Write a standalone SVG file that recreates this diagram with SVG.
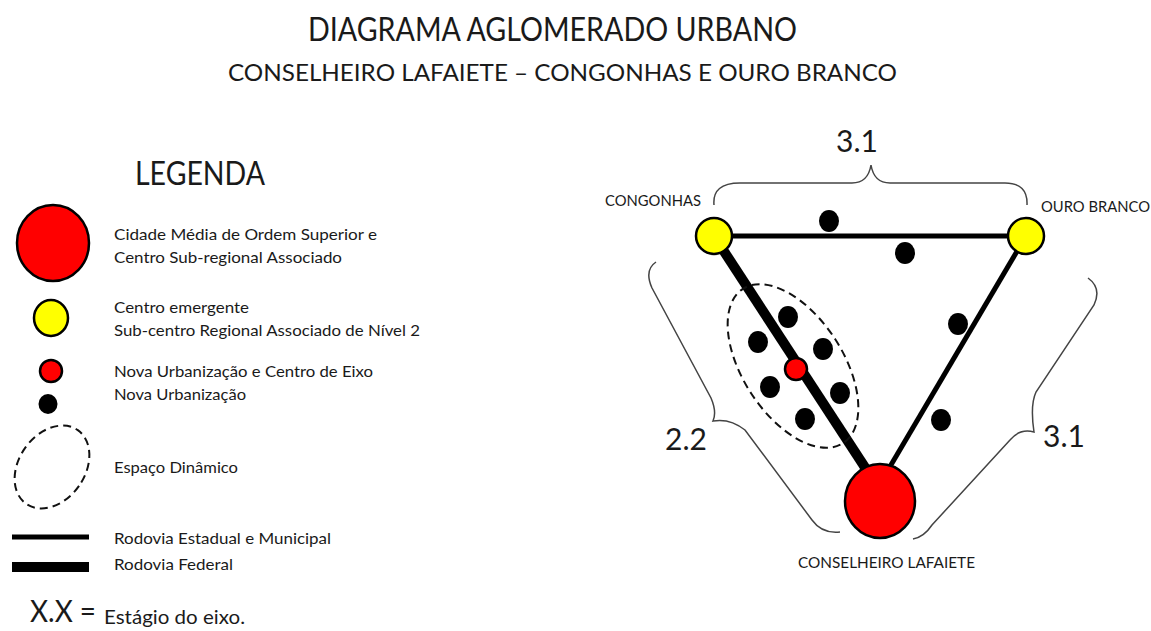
<svg xmlns="http://www.w3.org/2000/svg" width="1151" height="631" viewBox="0 0 1151 631">
<style>
text{font-family:Lato,"Open Sans","Liberation Sans",sans-serif;fill:#1a1a1a}
.lg{font-size:15px}
.lbl{font-size:15px}
.num{font-size:30px}
.brace{fill:none;stroke:#444;stroke-width:1.5}
.dash{fill:none;stroke:#111;stroke-width:2;stroke-dasharray:8 5}
.dot{fill:#000}
.red{fill:#f00;stroke:#000;stroke-width:2.5}
.yel{fill:#ff0;stroke:#000;stroke-width:2.5}
</style>
<rect width="1151" height="631" fill="#fff"/>
<g id="title">
<text x="308" y="41" font-size="32" textLength="489" lengthAdjust="spacingAndGlyphs">DIAGRAMA AGLOMERADO URBANO</text>
<text x="228" y="81" font-size="24" textLength="669" lengthAdjust="spacingAndGlyphs">CONSELHEIRO LAFAIETE – CONGONHAS E OURO BRANCO</text>
</g>
<g id="legend">
<text x="135" y="185" font-size="33" textLength="130" lengthAdjust="spacingAndGlyphs">LEGENDA</text>
<ellipse cx="53" cy="243" rx="36" ry="38" class="red"/>
<text class="lg" x="114" y="240" textLength="263" lengthAdjust="spacingAndGlyphs">Cidade Média de Ordem Superior e</text>
<text class="lg" x="114" y="263" textLength="228" lengthAdjust="spacingAndGlyphs">Centro Sub-regional Associado</text>
<ellipse cx="51" cy="318" rx="17" ry="18" class="yel"/>
<text class="lg" x="114" y="313" textLength="135" lengthAdjust="spacingAndGlyphs">Centro emergente</text>
<text class="lg" x="114" y="336" textLength="306" lengthAdjust="spacingAndGlyphs">Sub-centro Regional Associado de Nível 2</text>
<circle cx="51" cy="371" r="11" class="red"/>
<text class="lg" x="114" y="377" textLength="259" lengthAdjust="spacingAndGlyphs">Nova Urbanização  e Centro de Eixo</text>
<text class="lg" x="114" y="400" textLength="132" lengthAdjust="spacingAndGlyphs">Nova Urbanização</text>
<ellipse cx="48" cy="404" rx="9.5" ry="10" class="dot"/>
<ellipse cx="52" cy="467" rx="33" ry="45" transform="rotate(35 52 467)" class="dash"/>
<text class="lg" x="114" y="473" textLength="124" lengthAdjust="spacingAndGlyphs">Espaço Dinâmico</text>
<line x1="12" y1="537" x2="89" y2="537" stroke="#000" stroke-width="5"/>
<line x1="12" y1="567" x2="89" y2="567" stroke="#000" stroke-width="10"/>
<text class="lg" x="114" y="544" textLength="217" lengthAdjust="spacingAndGlyphs">Rodovia Estadual  e Municipal</text>
<text class="lg" x="114" y="570" textLength="119" lengthAdjust="spacingAndGlyphs">Rodovia Federal</text>
<text x="30" y="622" font-size="31" textLength="66" lengthAdjust="spacingAndGlyphs">X.X =</text>
<text x="104" y="624" font-size="19" textLength="141" lengthAdjust="spacingAndGlyphs">Estágio do eixo.</text>
</g>
<g id="braces">
<path class="brace" d="M714 205 Q712 183 740 183 L852 183 Q868 183 871 165 Q874 183 890 183 L1005 183 Q1028 183 1027 205"/>
<path class="brace" d="M656 262 Q644 270 652 288 L711 398 Q717 412 713 421 Q730 418 745 430 L812 520 Q822 534 840 532"/>
<path class="brace" d="M1088 278 Q1102 288 1094 305 L1036 392 Q1030 405 1034 432 Q1020 428 1010 440 L932 525 Q924 537 913 539"/>
<text class="num" x="836" y="152">3.1</text>
<text class="num" x="665" y="450">2.2</text>
<text class="num" x="1043" y="447">3.1</text>
</g>
<g id="connectors">
<line x1="714" y1="236" x2="1026" y2="236" stroke="#000" stroke-width="5"/>
<line x1="714" y1="236" x2="868" y2="472" stroke="#000" stroke-width="10"/>
<line x1="1026" y1="236" x2="888" y2="470" stroke="#000" stroke-width="5"/>
</g>
<g id="espaco-dinamico">
<ellipse cx="793" cy="366" rx="50" ry="92" transform="rotate(-33 793 366)" class="dash"/>
</g>
<g id="dots">
<ellipse cx="829" cy="221" rx="10" ry="11" class="dot"/>
<ellipse cx="905" cy="253" rx="10" ry="11" class="dot"/>
<ellipse cx="788" cy="317" rx="10" ry="11" class="dot"/>
<ellipse cx="758" cy="342" rx="10" ry="11" class="dot"/>
<ellipse cx="823" cy="349" rx="10" ry="11" class="dot"/>
<ellipse cx="770" cy="387" rx="10" ry="11" class="dot"/>
<ellipse cx="840" cy="393" rx="10" ry="11" class="dot"/>
<ellipse cx="805" cy="419" rx="10" ry="11" class="dot"/>
<ellipse cx="958" cy="324" rx="10" ry="11" class="dot"/>
<ellipse cx="941" cy="420" rx="10" ry="11" class="dot"/>
<circle cx="796" cy="369" r="11" class="red"/>
</g>
<g id="congonhas">
<circle cx="714" cy="236" r="18" class="yel"/>
<text class="lbl" x="605" y="206" textLength="96" lengthAdjust="spacingAndGlyphs">CONGONHAS</text>
</g>
<g id="ouro-branco">
<circle cx="1026" cy="236" r="18" class="yel"/>
<text class="lbl" x="1041" y="212" textLength="109" lengthAdjust="spacingAndGlyphs">OURO BRANCO</text>
</g>
<g id="conselheiro-lafaiete">
<ellipse cx="880" cy="501" rx="35" ry="37" class="red"/>
<text class="lbl" x="798" y="568" textLength="177" lengthAdjust="spacingAndGlyphs">CONSELHEIRO  LAFAIETE</text>
</g>
</svg>
